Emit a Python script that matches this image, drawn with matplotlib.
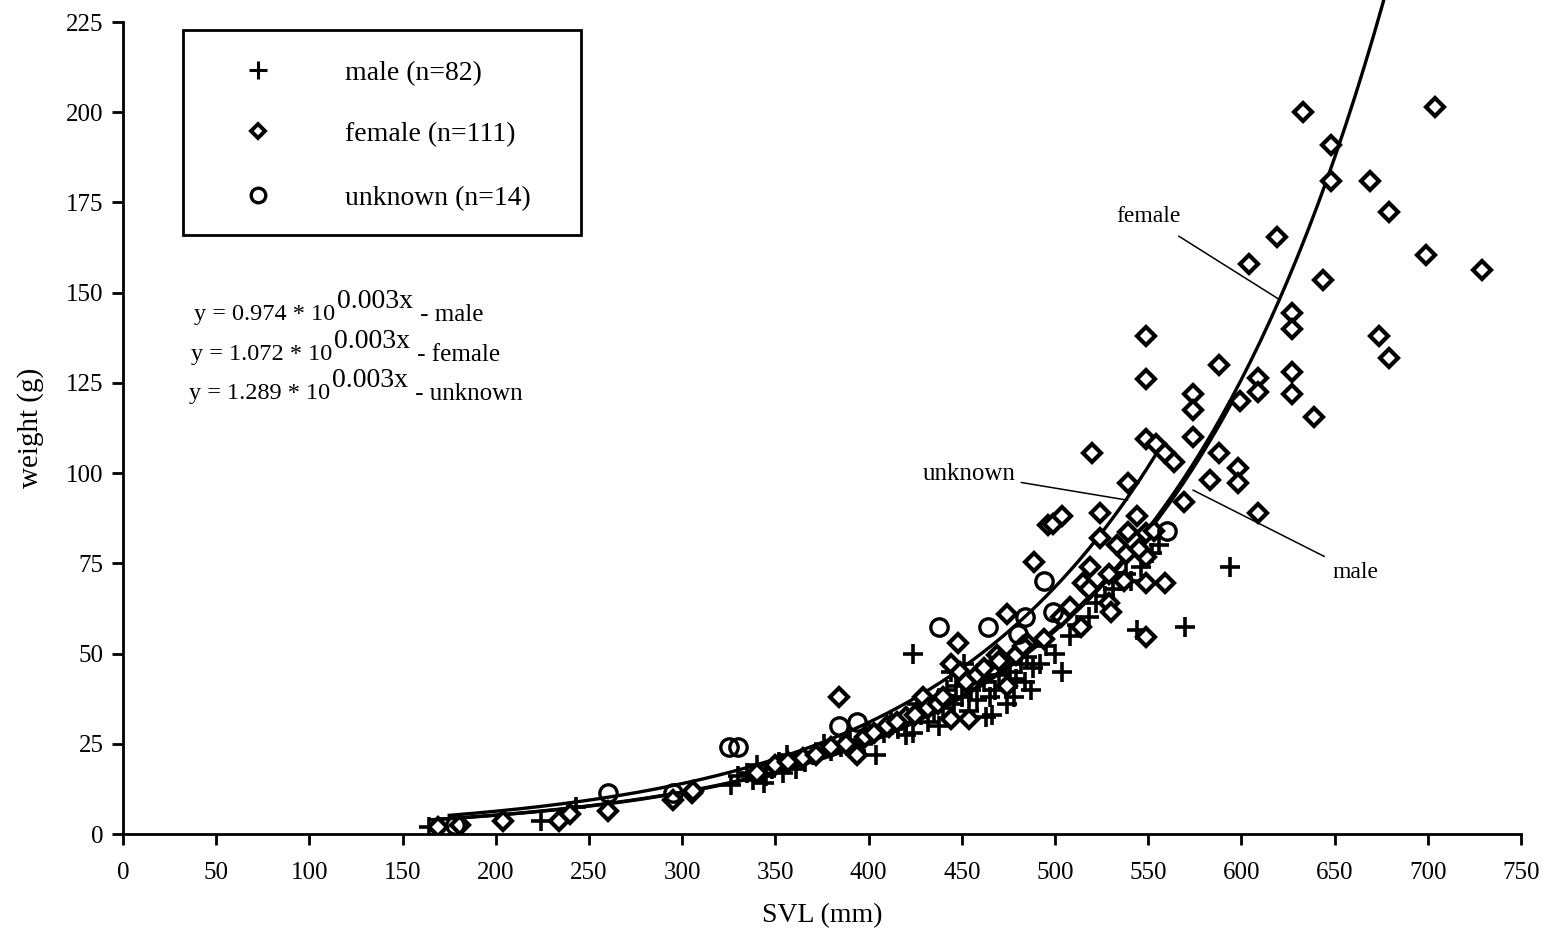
import matplotlib
matplotlib.use("Agg")
import matplotlib.pyplot as plt
from matplotlib.patches import Rectangle
import numpy as np

plt.rcParams['font.family'] = ['Liberation Serif', 'DejaVu Serif']

# male snout-vent length (mm) and weight (g)
male_svl = [164, 224, 243, 326, 340, 344, 345, 356, 361, 376, 404, 420, 424, 424,
            437, 444, 447, 451, 454, 460, 463, 465, 474, 487, 492, 504, 544, 570, 594,
            330, 335, 348, 352, 366, 370, 380, 385, 390, 397, 400, 408, 412, 416,
            428, 432, 435, 440, 442, 446, 450, 455, 458, 462, 468, 470, 476, 479,
            482, 485, 488, 495, 500, 508, 512, 518, 522, 527, 531, 535, 538, 541,
            546, 552, 556, 338, 354, 393, 426, 438, 466, 478, 484]
male_wt = [2, 3.5, 7.5, 13.5, 19, 14, 16, 22, 18, 25, 22, 27.5, 50, 28,
           37, 45, 41, 47, 34, 43.5, 32.5, 38, 36, 40, 47, 45, 56.5, 57.5, 74,
           16, 17, 18, 20, 20, 22, 23, 24, 26, 25, 28, 28, 31, 29,
           33, 31, 34, 35, 40, 36, 38, 40, 37, 42, 40, 44, 45, 43,
           47, 49, 46, 52, 50, 55, 58, 60, 64, 66, 68, 70, 72, 70,
           74, 78, 80, 15, 17, 23, 36, 30, 33, 38, 42]

female_svl = [169, 181, 204, 234, 240, 260, 295, 305, 306, 384, 394,
              411, 420, 429, 444, 449, 448, 469, 479, 474, 454, 444, 474, 485, 494,
              489, 496, 499, 504,
              514, 515, 519, 520, 524, 524, 529, 529, 530, 537, 538, 539, 539, 544,
              549, 549, 549, 549, 559, 549, 549, 549, 554, 559, 564, 569, 574, 574,
              574, 583, 588, 588, 598, 598, 599, 604, 609, 609, 609, 619, 627, 627,
              627, 627, 633, 639, 644, 648, 648, 669, 674, 679, 679, 699, 704, 729,
              340, 350, 357, 365, 372, 380, 388, 398, 403, 410, 415, 425, 432, 437,
              440, 452, 458, 462, 470, 483, 503, 508, 518, 533, 545, 553]
female_wt = [2, 2.5, 3.5, 3.5, 5.5, 6.5, 9.5, 11.5, 12, 38, 22,
             29.7, 32.5, 38, 47, 45, 53, 49.6, 49.6, 61, 32, 32, 41, 53, 54,
             75.5, 85.5, 86, 88,
             57.4, 69.5, 74, 105.5, 89, 82, 72, 64, 61.6, 70, 77.7, 83.8, 97.2, 88,
             83.3, 76.8, 69.5, 54.7, 69.5, 138, 126, 109.5, 108, 105.5, 103, 92, 122, 117.5,
             110, 98, 130, 105.5, 101.5, 97.3, 120, 158, 89, 126.3, 122.6, 165.5, 144.5, 140,
             128, 122, 200, 115.6, 153.5, 191, 181, 181, 138, 132, 172.4, 160.4, 201.5, 156.3,
             17, 19, 20, 21, 22, 24, 25, 27, 28, 30, 31, 33, 35, 36,
             38, 42, 44, 46, 48, 52, 60, 63, 68, 80, 79, 84]

unknown_svl = [178, 260, 295, 325, 330, 384, 394, 438, 464, 480, 484, 494, 499, 560]
unknown_wt = [2.5, 11.3, 11.5, 24, 24, 30, 31, 57.5, 57.5, 55.5, 60, 70, 61.5, 84]

# fitted curves as drawn, y = c * 10^(k x); male and female nearly coincide
fit_coef = {'male': 1.06, 'female': 1.072, 'unknown': 1.289}
fit_exp = 0.00345
fit_range = {'male': (165, 595), 'female': (170, 679), 'unknown': (175, 555)}

# equation text printed on the chart
eq_coef = ['0.974', '1.072', '1.289']
eq_name = ['male', 'female', 'unknown']

fig = plt.figure(figsize=(15.52, 9.41), dpi=100)
ax = fig.add_axes([0.0793, 0.1137, 0.9007, 0.8629])

for name in ['male', 'female', 'unknown']:
    lo, hi = fit_range[name]
    xs = np.linspace(lo, hi, 200)
    ax.plot(xs, fit_coef[name] * 10 ** (fit_exp * xs), color='black', lw=2.4,
            clip_on=False, zorder=3)

ax.plot(male_svl, male_wt, linestyle='', marker='+', ms=14, mew=2.6, color='black', zorder=4)
ax.plot(female_svl, female_wt, linestyle='', marker='D', ms=9.5, mew=3.0,
        mfc='white', mec='black', zorder=4)
ax.plot(unknown_svl, unknown_wt, linestyle='', marker='o', ms=12.5, mew=2.4,
        mfc='none', mec='black', zorder=5)

ax.set_xlim(0, 750)
ax.set_ylim(0, 225)
ax.set_xticks(np.arange(0, 751, 50))
ax.set_yticks(np.arange(0, 226, 25))
for s in ['top', 'right']:
    ax.spines[s].set_visible(False)
for s in ['left', 'bottom']:
    ax.spines[s].set_linewidth(2.0)
ax.tick_params(direction='out', length=8, width=2.0, labelsize=18)
ax.tick_params(axis='x', pad=12)
ax.tick_params(axis='y', pad=6)
ax.set_xlabel('SVL (mm)', fontsize=20, labelpad=14)
ax.set_ylabel('weight (g)', fontsize=21, labelpad=16)

# legend box drawn by hand
ax.add_patch(Rectangle((0.0429, 0.7377), 0.2847, 0.2523, transform=ax.transAxes,
                       fill=False, lw=2.0, ec='black', clip_on=False))
rows = [('+', 'male (n=82)', 0.941, dict(ms=13, mew=2.2, color='black')),
        ('D', 'female (n=111)', 0.8658, dict(ms=7.5, mew=2.8, mfc='white', mec='black')),
        ('o', 'unknown (n=14)', 0.787, dict(ms=10.5, mew=2.4, mfc='none', mec='black'))]
for mk, label, yy, style in rows:
    ax.plot([0.0966], [yy], marker=mk, linestyle='', transform=ax.transAxes,
            clip_on=False, **style)
    ax.text(0.1588, yy - 0.004, label, transform=ax.transAxes, fontsize=20, va='center')

eq_y = [314, 354, 393]
eq_x = [194, 191, 189]
for coef, name, px, py in zip(eq_coef, eq_name, eq_x, eq_y):
    t1 = ax.text((px - 123) / 1398, (834 - py) / 812, 'y = ' + coef + ' * 10',
                 transform=ax.transAxes, fontsize=17.5, va='center')
    t2 = ax.annotate('0.003x', xy=(1, 0.5), xycoords=t1, xytext=(1, 9),
                     textcoords='offset points', fontsize=20, va='center')
    ax.annotate(' - ' + name, xy=(1, 0.5), xycoords=t2, xytext=(1, -10),
                textcoords='offset points', fontsize=18, va='center')

ax.annotate('female', xy=(620.7, 148), xytext=(550, 171), fontsize=17,
            ha='center', va='center',
            arrowprops=dict(arrowstyle='-', lw=1.1, color='black', shrinkA=8, shrinkB=0))
ax.annotate('unknown', xy=(539, 92.5), xytext=(454, 99.8), fontsize=18,
            ha='center', va='center',
            arrowprops=dict(arrowstyle='-', lw=1.1, color='black', shrinkA=2, shrinkB=0))
ax.annotate('male', xy=(574, 95.3), xytext=(661, 72.6), fontsize=17,
            ha='center', va='center',
            arrowprops=dict(arrowstyle='-', lw=1.1, color='black', shrinkA=4, shrinkB=0))

fig.savefig('out.png', dpi=100)
